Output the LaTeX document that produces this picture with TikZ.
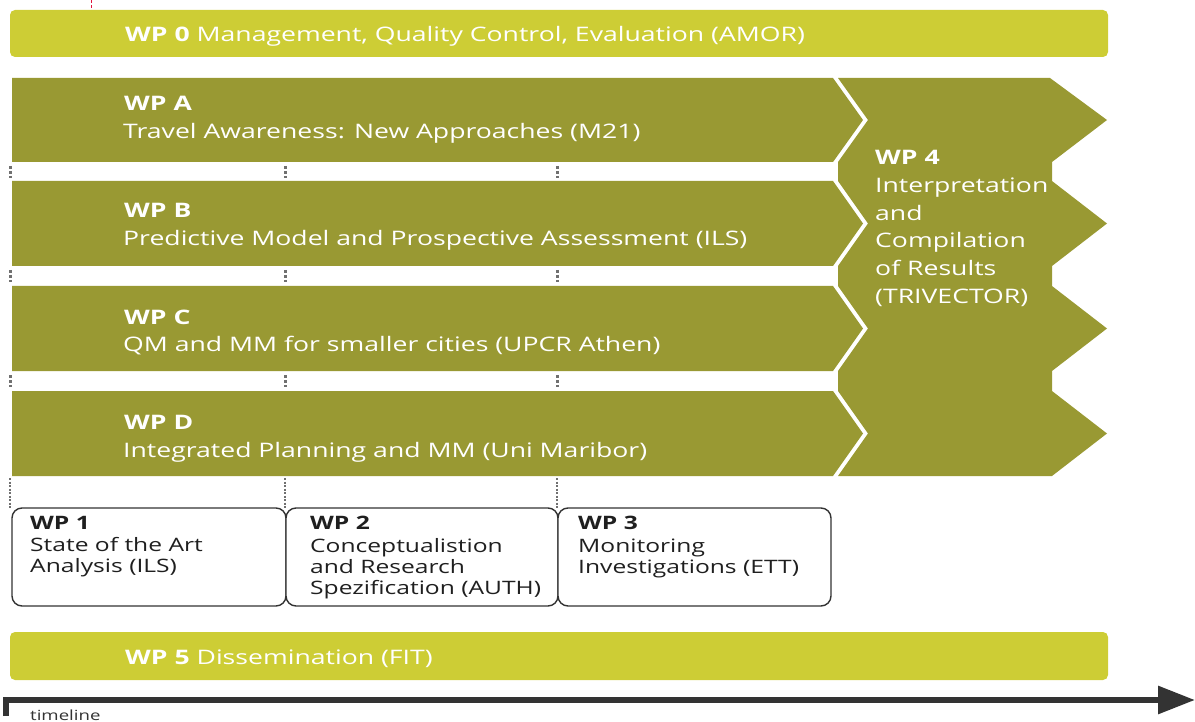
\documentclass[tikz,border=0pt]{standalone}
\usepackage{fontspec}
\setmainfont{Open Sans}[FakeStretch=1.33]
\usetikzlibrary{arrows.meta}
\definecolor{lightbar}{RGB}{205,205,53}
\definecolor{olive}{RGB}{153,153,51}
\definecolor{darkline}{RGB}{51,51,51}
\definecolor{redmark}{RGB}{225,20,60}
\begin{document}
\begin{tikzpicture}[x=1pt,y=-1pt,
  lightbox/.style={fill=lightbar,rounded corners=5pt},
  olivebar/.style={fill=olive},
  wtitle/.style={anchor=base west,inner sep=0pt,text=white,font=\fontsize{20}{24}\selectfont\bfseries},
  wtext/.style={anchor=base west,inner sep=0pt,text=white,font=\fontsize{20}{24}\selectfont},
  btext/.style={anchor=north west,inner sep=0pt,text=darkline!60!black,align=left,font=\fontsize{18.5}{21}\selectfont},
  smallbox/.style={draw=darkline,line width=1.4pt,rounded corners=10pt,fill=white},
  sepdots/.style={draw=darkline!70,line width=3pt,dash pattern=on 3pt off 2pt},
  tl/.style={draw=darkline,line width=6pt}
]
\useasboundingbox (0,0) rectangle (1195,722);
% red dashed mark
\coordinate (r1) at (91,0); \coordinate (r2) at (91,10);
\draw[redmark,line width=1pt,dash pattern=on 3pt off 2pt] (r1) -- (r2);
% WP0
\fill[lightbox] (10,10) rectangle (1108,57);
\node[wtitle] (wp0) at (125,42) {WP 0 \mdseries Management, Quality Control, Evaluation (AMOR)};
% WP A-D bars
\foreach \t/\b in {78/162,181/266,286/371,391/476}{
  \fill[olivebar] (12,\t) -- (833,\t) -- (863,{(\t+\b)/2}) -- (833,\b) -- (12,\b) -- cycle;
}
% WP4 shape
\fill[olivebar] (838,78) -- (868,120) -- (838,162) -- (838,181) -- (868,223.5) -- (838,266)
  -- (838,286) -- (868,328.5) -- (838,371) -- (838,391) -- (868,433.5) -- (838,476)
  -- (1052,476) -- (1107,433.5) -- (1052,391) -- (1052,371) -- (1107,328.5) -- (1052,286)
  -- (1052,266) -- (1107,223.5) -- (1052,181) -- (1052,162) -- (1107,120) -- (1050,78) -- cycle;
% texts in bars
\node[wtitle] (wpa) at (124,111) {WP A};
\node[wtext] (wpat) at (123,139) {Travel Awareness: New Approaches (M21)};
\node[wtitle] (wpb) at (124,218) {WP B};
\node[wtext] (wpbt) at (123,246) {Predictive Model and Prospective Assessment (ILS)};
\node[wtitle] (wpc) at (124,324) {WP C};
\node[wtext] (wpct) at (123,351) {QM and MM for smaller cities (UPCR Athen)};
\node[wtitle] (wpd) at (124,429) {WP D};
\node[wtext] (wpdt) at (123,457) {Integrated Planning and MM (Uni Maribor)};
% WP4 text
\node[anchor=north west,inner sep=0pt,text=white,align=left,font=\fontsize{20}{27.8}\selectfont] (wp4) at (875,150)
  {\textbf{WP 4}\\Interpretation\\and\\Compilation\\of Results\\(TRIVECTOR)};
% separator dots between bars
\foreach \x in {10,285,557}{
  \foreach \y in {166,270,375}{
    \coordinate (s1) at (\x,\y); \coordinate (s2) at (\x,{\y+12});
    \draw[sepdots] (s1) -- (s2);
  }
  \coordinate (d1) at (\x,478); \coordinate (d2) at (\x,509);
  \draw[darkline!70,line width=1.6pt,dash pattern=on 2pt off 1.5pt] (d1) -- (d2);
}
% WP1-3 boxes
\draw[smallbox] (12,508) rectangle (286,606);
\draw[smallbox] (286,508) rectangle (558,606);
\draw[smallbox] (558,508) rectangle (831,606);
\node[btext] (wp1) at (30,516) {\textbf{WP 1}\\[1.5pt]State of the Art\\Analysis (ILS)};
\node[btext] (wp2) at (310,516) {\textbf{WP 2}\\[1.5pt]Conceptualistion\\and Research\\Spezification (AUTH)};
\node[btext] (wp3) at (578,516) {\textbf{WP 3}\\[1.5pt]Monitoring\\Investigations (ETT)};
% WP5
\fill[lightbox] (10,632) rectangle (1108,680);
\node[wtitle] (wp5) at (125,664) {WP 5 \mdseries Dissemination (FIT)};
% timeline
\coordinate (t0) at (6,716);
\coordinate (t1) at (6,700);
\coordinate (t2) at (1195,700);
\draw[tl,-{Triangle[length=37pt,width=27pt]}] (t0) -- (t1) -- (t2);
\node[anchor=base west,inner sep=0pt,text=darkline,font=\fontsize{14}{16}\selectfont] (tlabel) at (30,720.5) {timeline};
\end{tikzpicture}
\end{document}
